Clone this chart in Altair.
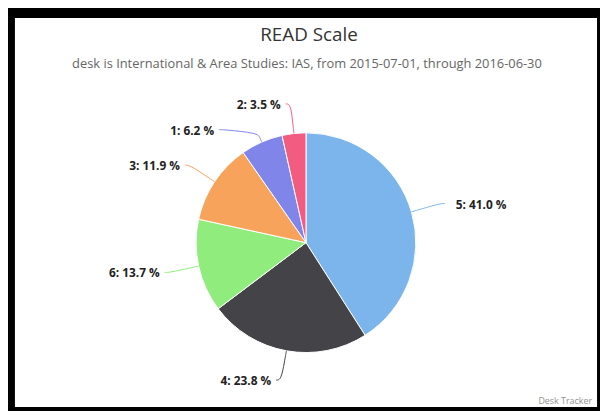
import math
import altair as alt
import pandas as pd

# ---- data -------------------------------------------------------------
categories = ["5", "4", "6", "3", "1", "2"]
values = [41.0, 23.8, 13.7, 11.9, 6.2, 3.5]
colors = ["#7cb5ec", "#434348", "#90ed7d", "#f7a35c", "#8085e9", "#f15c80"]

title_text = "READ Scale"
subtitle_text = "desk is International & Area Studies: IAS, from 2015-07-01, through 2016-06-30"
credit_text = "Desk Tracker"

# ---- layout parameters -------------------------------------------------
W, H = 588, 393          # inner (white) area
CX, CY = 294, 227        # pie centre inside the view
R = 111                  # pie radius
DIST = 30                # label distance
SLOT = 26                # minimal vertical spacing of labels on a side

total = sum(values)
slices = pd.DataFrame({"cat": categories, "value": values, "idx": range(len(values))})
slices["label"] = [f"{c}: {v:.1f} %" for c, v in zip(categories, values)]

# label layout (highcharts-like)
mids, cum = [], 0.0
for v in values:
    mids.append((cum + v / 2) / total * 2 * math.pi)
    cum += v
slices["mid"] = mids
slices["side"] = ["right" if math.sin(m) >= 0 else "left" for m in mids]
slices["ly"] = [-(R + DIST) * math.cos(m) for m in mids]

for side in ["right", "left"]:
    sub = slices[slices["side"] == side].sort_values("ly")
    prev = None
    for i, row in sub.iterrows():
        y = row["ly"]
        if prev is not None and y < prev + SLOT:
            y = prev + SLOT
        slices.loc[i, "ly"] = y
        prev = y

def lx(row):
    r2 = (R + DIST) ** 2 - row["ly"] ** 2
    dx = math.sqrt(max(r2, 0))
    return dx if row["side"] == "right" else -dx

slices["lx"] = slices.apply(lx, axis=1)

conn_rows = []
for _, row in slices.iterrows():
    s = 1 if row["side"] == "right" else -1
    m = row["mid"]
    bx, by = (R + 5) * math.sin(m), -(R + 5) * math.cos(m)
    ex, ey = R * math.sin(m), -R * math.cos(m)
    pts = [
        (row["lx"] + s * 5, row["ly"]),
        (row["lx"], row["ly"]),
        (2 * bx - ex, 2 * by - ey),
        (bx, by),
        (ex, ey),
    ]
    for k, (px, py) in enumerate(pts):
        conn_rows.append({"cat": row["cat"], "pt": k, "x": px, "y": py})
conn = pd.DataFrame(conn_rows)

FONT = "Open Sans"
color_enc = alt.Color("cat:N", scale=alt.Scale(domain=categories, range=colors), legend=None)
xs = alt.Scale(domain=[-CX, W - CX], nice=False, zero=False)
ys = alt.Scale(domain=[-CY, H - CY], nice=False, zero=False, reverse=True)

pie = alt.Chart(slices).mark_arc(radius=R, stroke="white", strokeWidth=1).encode(
    theta=alt.Theta("value:Q", stack=True),
    color=color_enc,
    order=alt.Order("idx:Q"),
    x=alt.value(CX),
    y=alt.value(CY),
)

connectors = alt.Chart(conn).mark_line(strokeWidth=1, interpolate="basis").encode(
    x=alt.X("x:Q", scale=xs, axis=None),
    y=alt.Y("y:Q", scale=ys, axis=None),
    color=color_enc,
    detail="cat:N",
    order=alt.Order("pt:Q"),
)

label_base = alt.Chart(slices).encode(
    x=alt.X("lx:Q", scale=xs, axis=None),
    y=alt.Y("ly:Q", scale=ys, axis=None),
    text="label:N",
)
labels_right = label_base.transform_filter(alt.datum.side == "right").mark_text(
    align="left", baseline="middle", dx=16, dy=1, font=FONT, fontSize=12,
    fontWeight="bold", color="#222222")
labels_left = label_base.transform_filter(alt.datum.side == "left").mark_text(
    align="right", baseline="middle", dx=-10, dy=1, font=FONT, fontSize=12,
    fontWeight="bold", color="#222222")

title = alt.Chart(pd.DataFrame({"t": [title_text]})).mark_text(
    font=FONT, fontSize=19, color="#333333", align="center", baseline="middle"
).encode(text="t:N", x=alt.value(W / 2 + 3), y=alt.value(17))

subtitle = alt.Chart(pd.DataFrame({"t": [subtitle_text]})).mark_text(
    font=FONT, fontSize=13, color="#666666", align="center", baseline="middle"
).encode(text="t:N", x=alt.value(W / 2 + 1), y=alt.value(47))

credit = alt.Chart(pd.DataFrame({"t": [credit_text]})).mark_text(
    font=FONT, fontSize=9, color="#909090", align="right", baseline="middle"
).encode(text="t:N", x=alt.value(W - 5), y=alt.value(H - 6))

chart = alt.layer(pie, connectors, labels_right, labels_left, title, subtitle, credit).properties(
    width=W, height=H,
    background="#000000",
    padding={"left": 7, "top": 8, "right": 3, "bottom": 3},
    autosize=alt.AutoSizeParams(type="none"),
).configure_view(fill="white", stroke=None)

chart.save("out.html", embed_options={"renderer": "svg", "actions": False})
